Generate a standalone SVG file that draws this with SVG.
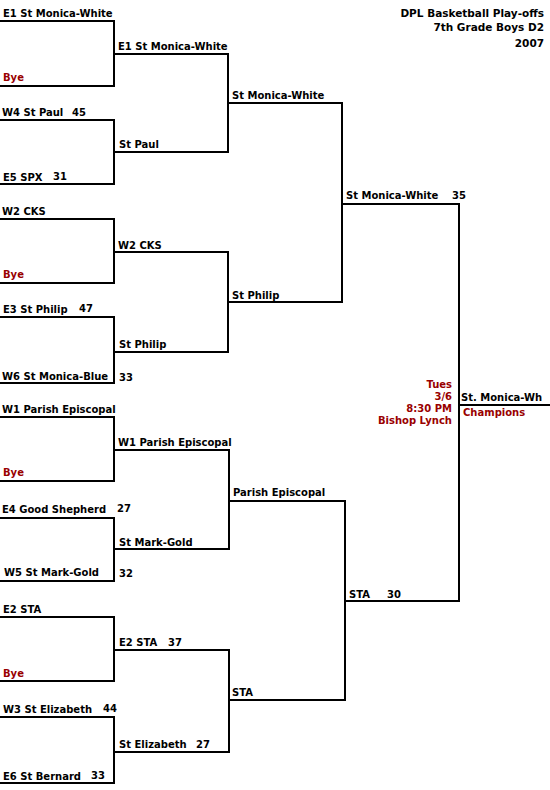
<svg xmlns="http://www.w3.org/2000/svg" width="550" height="790" viewBox="0 0 550 790">
<style>
text{font-family:"DejaVu Sans","Verdana",sans-serif;font-size:10px;font-weight:bold;fill:#000}
.t{font-size:10.5px}
.r{fill:#990000}
.e{text-anchor:end}
.ln{fill:none;stroke:#000;stroke-width:2;stroke-linecap:square}
</style>
<rect width="550" height="790" fill="#fff"/>
<g id="title">
<text class="e t" x="544" y="17">DPL Basketball Play-offs</text>
<text class="e t" x="544" y="31">7th Grade Boys D2</text>
<text class="e t" x="544" y="47">2007</text>
</g>
<g id="connectors" class="ln">
<path d="M0,21H114V86H0"/>
<path d="M0,120H114V184H0"/>
<path d="M0,219H114V283H0"/>
<path d="M0,317H114V383H0"/>
<path d="M0,417H114V481H0"/>
<path d="M0,518H114V581H0"/>
<path d="M0,617H114V681H0"/>
<path d="M0,717H114V783H0"/>
<path d="M114,54H228V152H114"/>
<path d="M114,252H228V352H114"/>
<path d="M114,450H229V549H114"/>
<path d="M114,650H229V752H114"/>
<path d="M228,103H342V302H228"/>
<path d="M229,501H345V700H229"/>
<path d="M342,204H459V601H345"/>
<path d="M459,405H550"/>
</g>
<g id="r1">
<g id="e1"><text x="3" y="17">E1 St Monica-White</text></g>
<g id="bye1"><text class="r" x="3" y="81">Bye</text></g>
<g id="w4"><text x="2" y="116">W4 St Paul</text><text x="72" y="116">45</text></g>
<g id="e5"><text x="3" y="181">E5 SPX</text><text x="53" y="180">31</text></g>
<g id="w2"><text x="2" y="215">W2 CKS</text></g>
<g id="bye2"><text class="r" x="3" y="278">Bye</text></g>
<g id="e3"><text x="3" y="313">E3 St Philip</text><text x="79" y="312">47</text></g>
<g id="w6"><text x="2" y="380">W6 St Monica-Blue</text><text x="119" y="381">33</text></g>
<g id="w1"><text x="2" y="413">W1 Parish Episcopal</text></g>
<g id="bye3"><text class="r" x="3" y="476">Bye</text></g>
<g id="e4"><text x="2" y="513">E4 Good Shepherd</text><text x="117" y="512">27</text></g>
<g id="w5"><text x="4" y="576">W5 St Mark-Gold</text><text x="119" y="577">32</text></g>
<g id="e2"><text x="3" y="613">E2 STA</text></g>
<g id="bye4"><text class="r" x="3" y="677">Bye</text></g>
<g id="w3"><text x="3" y="713">W3 St Elizabeth</text><text x="103" y="712">44</text></g>
<g id="e6"><text x="3" y="780">E6 St Bernard</text><text x="91" y="779">33</text></g>
</g>
<g id="r2">
<g id="r2a"><text x="118" y="50">E1 St Monica-White</text></g>
<g id="r2b"><text x="119" y="148">St Paul</text></g>
<g id="r2c"><text x="118" y="249">W2 CKS</text></g>
<g id="r2d"><text x="119" y="348">St Philip</text></g>
<g id="r2e"><text x="118" y="446">W1 Parish Episcopal</text></g>
<g id="r2f"><text x="119" y="546">St Mark-Gold</text></g>
<g id="r2g"><text x="119" y="646">E2 STA</text><text x="168" y="646">37</text></g>
<g id="r2h"><text x="119" y="748">St Elizabeth</text><text x="196" y="748">27</text></g>
</g>
<g id="r3">
<g id="r3a"><text x="232" y="99">St Monica-White</text></g>
<g id="r3b"><text x="232" y="299">St Philip</text></g>
<g id="r3c"><text x="233" y="496">Parish Episcopal</text></g>
<g id="r3d"><text x="232" y="696">STA</text></g>
</g>
<g id="r4">
<g id="r4a"><text x="346" y="199">St Monica-White</text><text x="452" y="199">35</text></g>
<g id="r4b"><text x="349" y="598">STA</text><text x="387" y="598">30</text></g>
</g>
<g id="final">
<text class="r e" x="452" y="388">Tues</text>
<text class="r e" x="452" y="400">3/6</text>
<text class="r e" x="452" y="412">8:30 PM</text>
<text class="r e" x="452" y="424">Bishop Lynch</text>
</g>
<g id="champion">
<text x="461" y="401">St. Monica-Wh</text>
<text class="r" x="463" y="416">Champions</text>
</g>
</svg>
